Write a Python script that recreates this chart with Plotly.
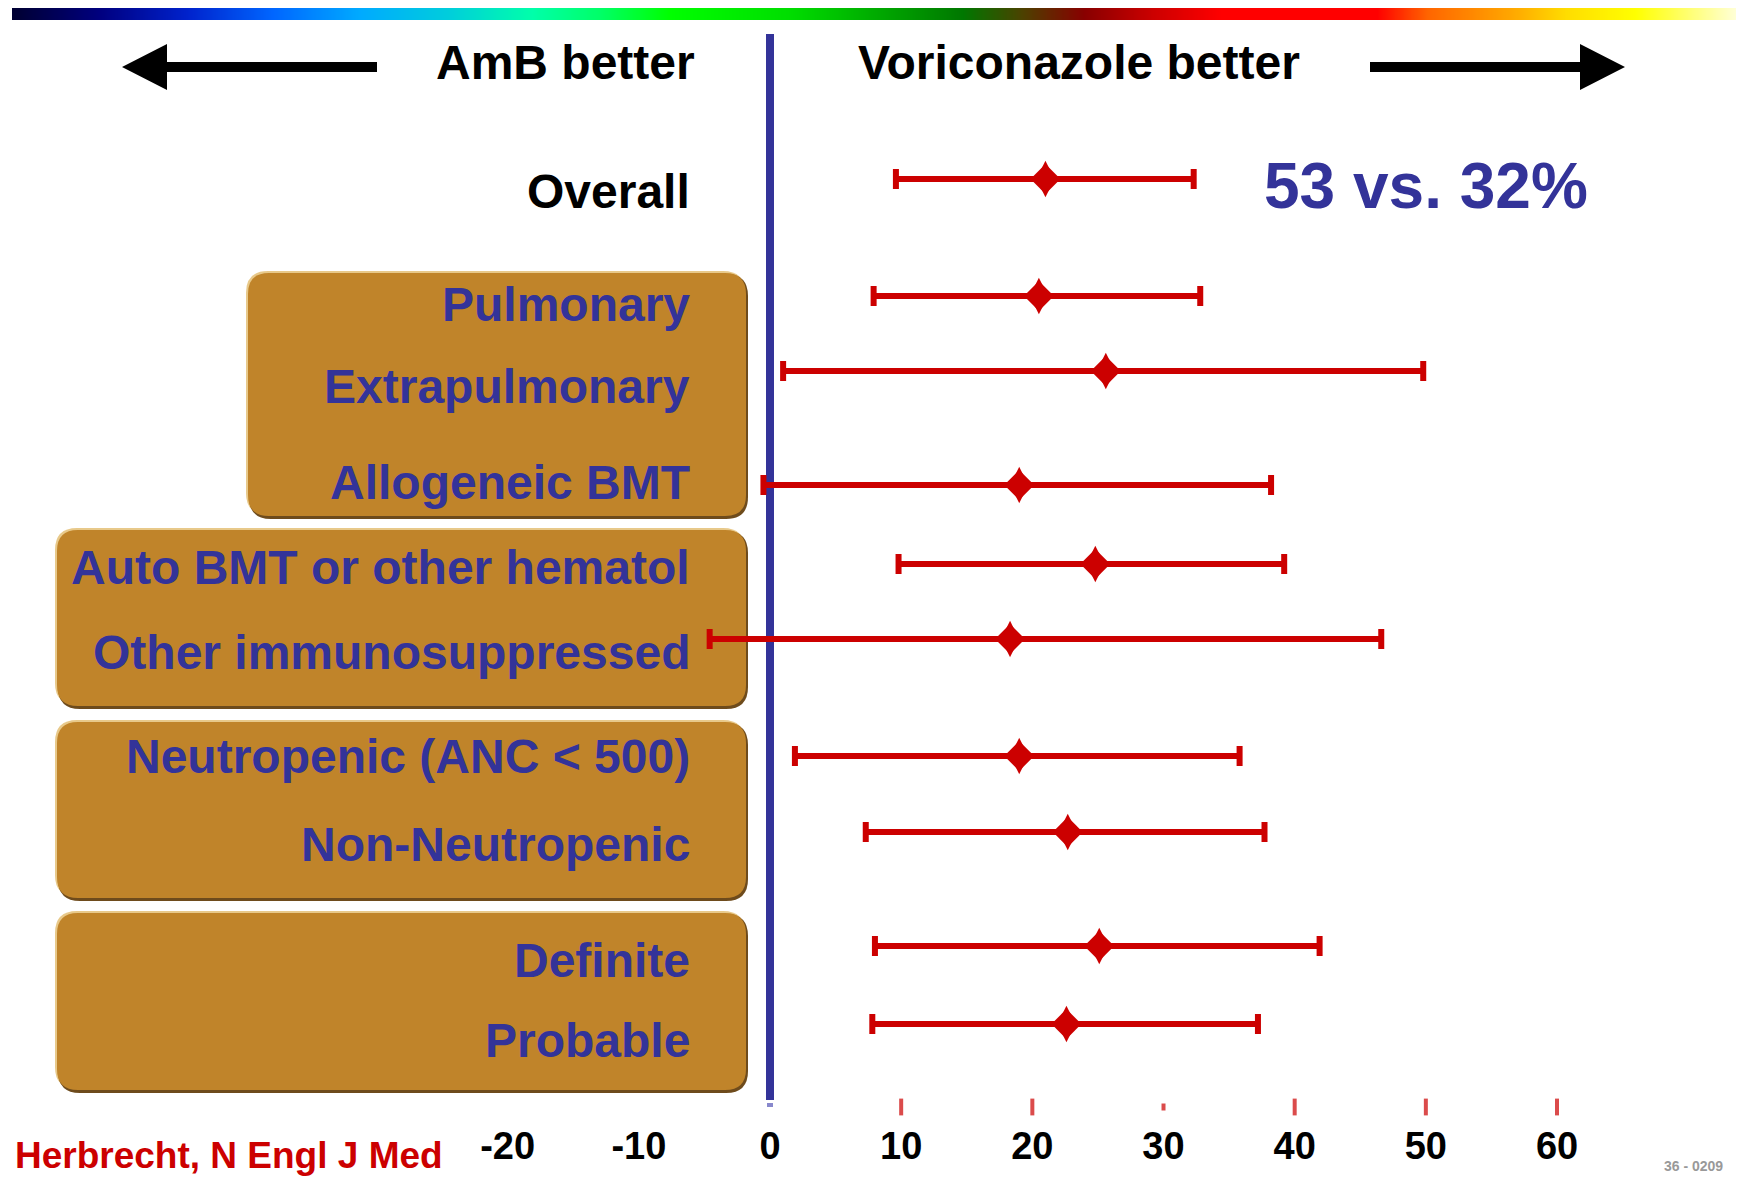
import plotly.graph_objects as go
import numpy as np

# page (browser) size; the html body adds an 8px margin, so the figure is 8px smaller
PAGE_W, PAGE_H = 1744, 1178
OFF = 8
W, H = PAGE_W - OFF, PAGE_H - OFF

# ---- data ----
groups = ["Overall", "Pulmonary", "Extrapulmonary", "Allogeneic BMT",
          "Auto BMT or other hematol", "Other immunosuppressed",
          "Neutropenic (ANC < 500)", "Non-Neutropenic", "Definite", "Probable"]
diff = [21.0, 20.5, 25.6, 19.0, 24.8, 18.3, 19.0, 22.7, 25.1, 22.6]
ci_low = [9.6, 7.9, 1.0, -0.5, 9.8, -4.6, 1.9, 7.3, 8.0, 7.8]
ci_high = [32.3, 32.8, 49.8, 38.2, 39.2, 46.6, 35.8, 37.7, 41.9, 37.2]
tick_vals = [-20, -10, 0, 10, 20, 30, 40, 50, 60]
tick_text = ["-20", "-10", "0", "10", "20", "30", "40", "50", "60"]
red_ticks = [10, 20, 30, 40, 50, 60]

# ---- layout positions (page pixel rows) ----
row_y = [179, 296, 371, 485, 564, 639, 756, 832, 946, 1024]
label_y = [192, 304, 386, 482, 567, 652, 756, 844, 960, 1040]
label_color = ["black"] + ["#333399"] * 9

BOTTOM = 58
PH = H - BOTTOM
Y_TOP = OFF
Y_BOT = OFF + PH
px0, px_per_unit = 770.0, 13.117
xr = [(OFF - px0) / px_per_unit, (PAGE_W - px0) / px_per_unit]

BLUE = "#333399"
RED = "#CC0000"
SANS = "Liberation Sans, Arial"


def px(x):
    return (x - OFF) / W


def py(y):
    return (Y_BOT - y) / PH


fig = go.Figure()

err = dict(type="data", symmetric=False,
           array=[h - d for h, d in zip(ci_high, diff)],
           arrayminus=[d - l for d, l in zip(diff, ci_low)],
           color=RED, thickness=6, width=10)

# forest plot: CIs + diamond (union of diamond and tall diamond)
fig.add_trace(go.Scatter(
    x=diff, y=row_y, mode="markers", error_x=err,
    marker=dict(symbol="diamond", size=23, color=RED, line=dict(width=0)),
    showlegend=False, hoverinfo="skip"))
fig.add_trace(go.Scatter(
    x=diff, y=row_y, mode="markers",
    marker=dict(symbol="diamond-tall", size=26, color=RED, line=dict(width=0)),
    showlegend=False, hoverinfo="skip"))

# red tick marks
fig.add_trace(go.Scatter(
    x=red_ticks, y=[1107] * len(red_ticks), mode="markers",
    marker=dict(symbol="line-ns", size=[12, 12, 5, 12, 12, 12],
                line=dict(color=RED, width=4)),
    showlegend=False, hoverinfo="skip"))

# rainbow strip on top
stops = [(0.0, "#000033"), (0.05, "#000080"), (0.1, "#0022CC"), (0.15, "#0066FF"),
         (0.2, "#00AAFF"), (0.25, "#00CCDD"), (0.3, "#00FFAA"), (0.34, "#00FF66"),
         (0.38, "#00FF00"), (0.45, "#00DD00"), (0.5, "#00AA00"), (0.55, "#007700"),
         (0.585, "#4D4000"), (0.62, "#880000"), (0.66, "#CC0000"), (0.7, "#FF0000"),
         (0.79, "#FF0000"), (0.82, "#FF6600"), (0.87, "#FFAA00"), (0.9, "#FFDD00"),
         (0.94, "#FFFF00"), (1.0, "#FFFFDD")]
nstrip = 400
fig.add_trace(go.Heatmap(
    z=[list(np.linspace(0, 1, nstrip))], colorscale=stops, showscale=False,
    zsmooth="best", xaxis="x2", yaxis="y2", hoverinfo="skip"))

shapes = []


def rrect(x0, y0, x1, y1, r):
    X0, X1 = px(x0), px(x1)
    rx = r / W
    return (f"M{X0 + rx},{y0} L{X1 - rx},{y0} Q{X1},{y0} {X1},{y0 + r} "
            f"L{X1},{y1 - r} Q{X1},{y1} {X1 - rx},{y1} L{X0 + rx},{y1} "
            f"Q{X0},{y1} {X0},{y1 - r} L{X0},{y0 + r} Q{X0},{y0} {X0 + rx},{y0} Z")


boxes = [(247, 272, 747, 517), (56, 529, 747, 707), (56, 721, 747, 899), (56, 912, 747, 1091)]
for (x0, y0, x1, y1) in boxes:
    shapes.append(dict(type="path", path=rrect(x0 - 1, y0 - 1, x1 - 2, y1 - 2, 22),
                       xref="paper", yref="y", fillcolor="#E8C98A", line=dict(width=0), layer="below"))
    shapes.append(dict(type="path", path=rrect(x0 + 2, y0 + 2, x1 + 1, y1 + 2, 22),
                       xref="paper", yref="y", fillcolor="#6E4B1C", line=dict(width=0), layer="below"))
    shapes.append(dict(type="path", path=rrect(x0 + 1, y0 + 1, x1 - 1, y1 - 1, 21),
                       xref="paper", yref="y", fillcolor="#C0842A", line=dict(width=0), layer="below"))

# blue zero line
shapes.append(dict(type="line", x0=0, x1=0, y0=34, y1=1100, xref="x", yref="y",
                   line=dict(color=BLUE, width=8), layer="below"))
shapes.append(dict(type="line", x0=0, x1=0, y0=1103, y1=1107, xref="x", yref="y",
                   line=dict(color="#8888CC", width=6, dash="dot"), layer="below"))

# arrows
ay = 67
shapes.append(dict(type="path", xref="paper", yref="y", fillcolor="black", line=dict(width=0),
                   path=(f"M{px(122)},{ay} L{px(167)},{ay - 23} L{px(167)},{ay - 5} L{px(377)},{ay - 5} "
                         f"L{px(377)},{ay + 5} L{px(167)},{ay + 5} L{px(167)},{ay + 23} Z")))
shapes.append(dict(type="path", xref="paper", yref="y", fillcolor="black", line=dict(width=0),
                   path=(f"M{px(1625)},{ay} L{px(1580)},{ay - 23} L{px(1580)},{ay - 5} L{px(1370)},{ay - 5} "
                         f"L{px(1370)},{ay + 5} L{px(1580)},{ay + 5} L{px(1580)},{ay + 23} Z")))

annotations = []
for g, ly, c in zip(groups, label_y, label_color):
    annotations.append(dict(text=f"<b>{g}</b>", x=px(692), xref="paper", y=py(ly), yref="paper",
                            xanchor="right", yanchor="middle", showarrow=False,
                            font=dict(family=SANS, size=48, color=c)))

annotations += [
    dict(text="<b>AmB better</b>", x=px(697), xref="paper", y=py(62), yref="paper", xanchor="right",
         yanchor="middle", showarrow=False, font=dict(family=SANS, size=48, color="black")),
    dict(text="<b>Voriconazole better</b>", x=px(856), xref="paper", y=py(62), yref="paper",
         xanchor="left", yanchor="middle", showarrow=False,
         font=dict(family=SANS, size=48, color="black")),
    dict(text="<b>53 vs. 32%</b>", x=px(1426), xref="paper", y=py(186), yref="paper",
         xanchor="center", yanchor="middle", showarrow=False,
         font=dict(family=SANS, size=64, color=BLUE)),
    dict(text="<b>Herbrecht, N Engl J Med</b>", x=px(13), xref="paper", y=py(1155), yref="paper",
         xanchor="left", yanchor="middle", showarrow=False,
         font=dict(family=SANS, size=37, color=RED)),
    dict(text="<b>36 - 0209</b>", x=px(1662), xref="paper", y=py(1166), yref="paper",
         xanchor="left", yanchor="middle", showarrow=False,
         font=dict(family=SANS, size=14, color="#999999")),
]

fig.update_layout(
    width=W, height=H,
    margin=dict(l=0, r=0, t=0, b=BOTTOM, pad=0),
    paper_bgcolor="white", plot_bgcolor="white",
    showlegend=False,
    xaxis=dict(range=xr, showgrid=False, zeroline=False, showline=False,
               tickmode="array", tickvals=tick_vals, ticktext=[f"<b>{t}</b>" for t in tick_text],
               ticks="", tickfont=dict(family=SANS, size=38, color="black"), fixedrange=True),
    yaxis=dict(range=[Y_BOT, Y_TOP], showgrid=False, zeroline=False, showline=False,
               showticklabels=False, ticks="", fixedrange=True),
    xaxis2=dict(domain=[px(12), px(1741)], range=[-0.5, nstrip - 0.5], visible=False, anchor="y2"),
    yaxis2=dict(domain=[py(20), 1.0], range=[-0.5, 0.5], visible=False, anchor="x2"),
    shapes=shapes, annotations=annotations,
)

fig.write_html("out.html")
